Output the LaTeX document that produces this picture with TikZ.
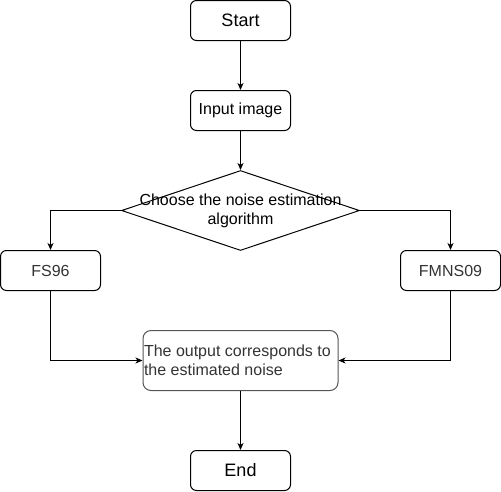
\documentclass[tikz,border=0pt]{standalone}
\usepackage{fontspec}
\setmainfont{Liberation Sans}
\usetikzlibrary{shapes.geometric,arrows.meta}
\definecolor{txtgray}{HTML}{333333}
\definecolor{edgegray}{HTML}{555555}
\begin{document}
\begin{tikzpicture}[x=1pt,y=-1pt,line width=1pt,
  lbl/.style={font=\fontsize{16}{19.2}\selectfont},
  biglbl/.style={font=\fontsize{18}{21.6}\selectfont},
  box/.style={draw, rounded corners=6pt, minimum width=100pt, minimum height=40pt, inner sep=0pt, lbl},
  arr/.style={-{Stealth[length=7pt,width=6pt,inset=2pt]}}]
\useasboundingbox (0,0) rectangle (501,491);
\node[box, biglbl] (start) at (240.5,20.5) {Start};
\node[box] (input) at (240.5,110.5) {Input image};
\node[draw, diamond, minimum width=238pt, minimum height=80pt, inner sep=0pt] (choice) at (240.5,210.5) {};
\node[lbl, align=center, inner sep=0pt] (choicetext) at (choice.center) {Choose the noise estimation\\algorithm};
\node[box, text=txtgray] (fs) at (50.5,270.5) {FS96};
\node[box, text=txtgray] (fm) at (450.5,270.5) {FMNS09};
\node[box, draw=edgegray, minimum width=195pt, minimum height=60pt, rounded corners=8pt] (out) at (240.5,360.5) {};
\node[lbl, text=txtgray, anchor=west, align=left, inner sep=1pt] (outtext) at (out.west) {The output corresponds to\\the estimated noise};
\node[box, biglbl] (end) at (240.5,470.5) {End};
\draw[arr] (start) -- (input);
\draw[arr] (input) -- (choice);
\draw[arr] (choice.west) -| (fs.north);
\draw[arr] (choice.east) -| (fm.north);
\draw[arr] (fs.south) |- (out.west);
\draw[arr] (fm.south) |- (out.east);
\draw[arr] (out) -- (end);
\end{tikzpicture}
\end{document}
